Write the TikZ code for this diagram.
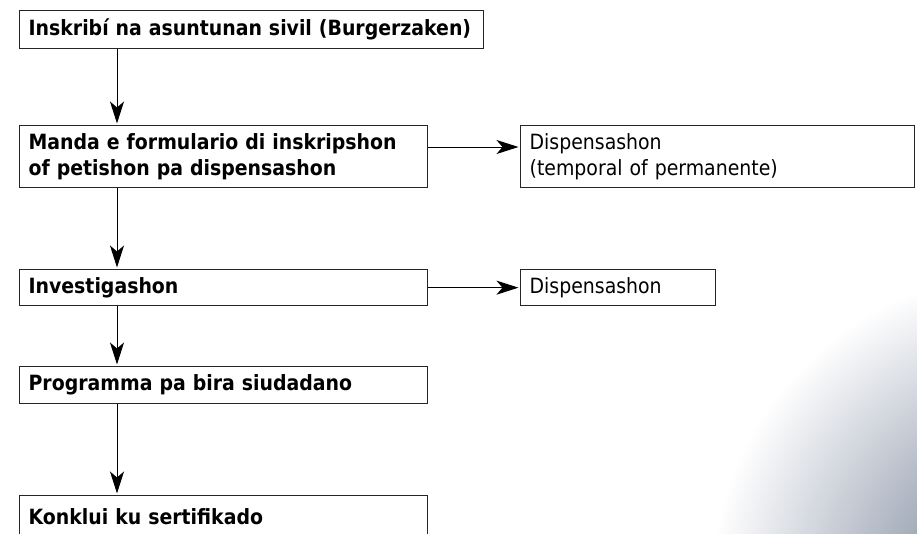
\documentclass[tikz,border=0pt]{standalone}
\usepackage{fontspec}
\setmainfont{DejaVu Sans Condensed}
\usetikzlibrary{arrows.meta}
\begin{document}
\begin{tikzpicture}[x=1pt,y=-1pt,
  box/.style={draw=black!85, line width=1.3pt, anchor=north west, inner xsep=9pt, inner ysep=0pt,
    align=left, font=\fontsize{21}{26}\selectfont\bfseries},
  sidebox/.style={box, font=\fontsize{21}{26}\selectfont},
  conn/.style={draw=black, line width=1pt, shorten >=1.5pt, -{Stealth[length=22pt,width=14pt,inset=6pt]}}]
\useasboundingbox (0,0) rectangle (917,533);
\clip (0,0) rectangle (917,533);
% decorative shaded corner
\shade[inner color={rgb,255:red,105;green,118;blue,142}, outer color=white] (1030,590) circle (320);
% nodes
\node[box, minimum width=464pt, minimum height=38pt, text width=446pt] (b1) at (19,10) {Inskribí na asuntunan sivil (Burgerzaken)};
\node[box, minimum width=408pt, minimum height=62pt, text width=390pt] (b2) at (19,125) {Manda e formulario di inskripshon\\of petishon pa dispensashon};
\node[sidebox, minimum width=394pt, minimum height=62pt, text width=376pt] (d1) at (520,125) {Dispensashon\\(temporal of permanente)};
\node[box, minimum width=408pt, minimum height=36pt, text width=390pt] (b3) at (19,269) {Investigashon};
\node[sidebox, minimum width=195pt, minimum height=36pt, text width=177pt] (d2) at (520,269) {Dispensashon};
\node[box, minimum width=408pt, minimum height=37pt, text width=390pt] (b4) at (19,366) {Programma pa bira siudadano};
\node[box, minimum width=408pt, minimum height=42pt, text width=390pt] (b5) at (19,495) {Konklui ku sertifikado};
\coordinate (xa) at (117,0);
% connectors
\draw[conn] (b1.south -| xa) -- (b2.north -| xa);
\draw[conn] (b2.south -| xa) -- (b3.north -| xa);
\draw[conn] (b3.south -| xa) -- (b4.north -| xa);
\draw[conn] (b4.south -| xa) -- (b5.north -| xa);
\draw[conn] (b2.east |- 0,147) -- (d1.west |- 0,147);
\draw[conn] (b3.east) -- (d2.west);
\end{tikzpicture}
\end{document}
